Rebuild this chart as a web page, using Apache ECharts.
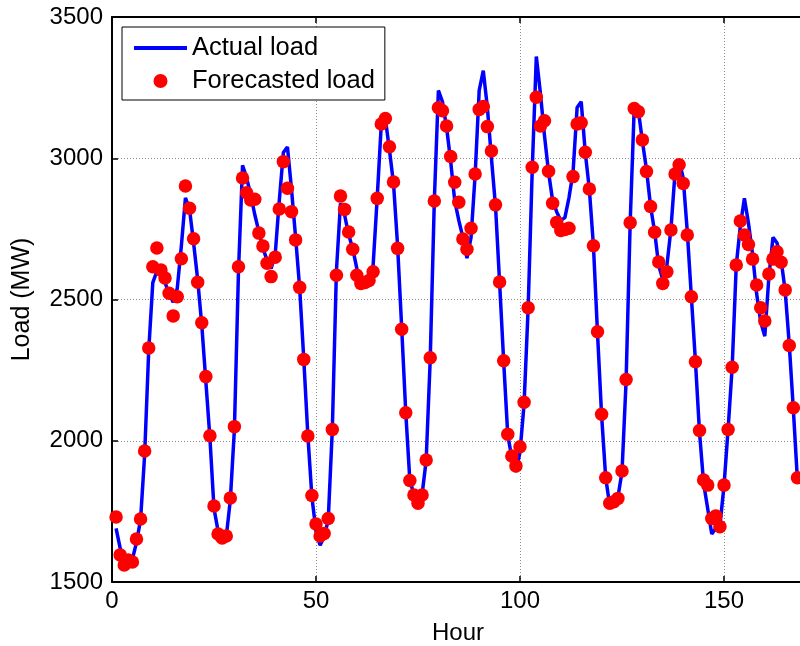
<!DOCTYPE html>
<html>
<head>
<meta charset="utf-8">
<script src="https://cdn.jsdelivr.net/npm/echarts@6/dist/echarts.min.js"></script>
<style>
html,body{margin:0;padding:0;background:#fff;overflow:hidden;}
#chart{width:800px;height:646px;}
</style>
</head>
<body>
<div id="chart"></div>
<script>
// Hour index of each sample (1..168)
const firstHour = 1;
// Actual load (MW), hours 1..168
const actualLoad = [
1690,1620,1585,1575,1580,1640,1720,1950,2320,2560,2600,2590,2560,2520,2490,2540,2690,2860,2820,2700,2570,2410,2210,2010,
1760,1680,1650,1660,1790,2040,2600,2975,2930,2870,2800,2740,2680,2640,2610,2660,2850,3020,3040,2890,2720,2540,2290,2020,
1800,1680,1630,1660,1720,2040,2600,2840,2800,2730,2680,2610,2560,2570,2580,2620,2860,3120,3140,3030,2910,2690,2400,2100,
1860,1810,1780,1810,1930,2290,2850,3240,3200,3110,2990,2850,2780,2720,2646,2720,2940,3240,3310,3180,3000,2830,2560,2280,
2020,1940,1890,1960,2130,2470,2960,3360,3230,3080,2950,2850,2810,2780,2790,2860,2950,3180,3200,3020,2890,2690,2380,2090,
1870,1770,1780,1800,1890,2210,2770,3180,3170,3060,2960,2830,2740,2620,2570,2620,2750,2950,2990,2930,2740,2510,2280,2030,
1850,1760,1670,1690,1700,1840,2040,2260,2620,2760,2858,2770,2660,2520,2420,2370,2580,2720,2700,2640,2530,2340,2110,1860
];
// Forecasted load (MW), hours 1..168
const forecastLoad = [
1730,1596,1560,1578,1571,1652,1723,1964,2328,2616,2682,2604,2576,2522,2442,2510,2644,2902,2823,2715,2561,2418,2227,2018,
1769,1670,1656,1663,1797,2050,2616,2930,2878,2852,2855,2735,2689,2628,2581,2650,2820,2988,2894,2811,2711,2543,2288,2017,
1806,1705,1663,1672,1725,2040,2586,2866,2819,2739,2678,2586,2557,2560,2567,2598,2858,3121,3141,3041,2916,2681,2395,2099,
1859,1808,1779,1808,1932,2294,2849,3179,3168,3114,3006,2915,2844,2714,2678,2752,2944,3173,3183,3112,3026,2835,2562,2283,
2023,1946,1911,1979,2136,2471,2968,3216,3114,3133,2954,2841,2773,2744,2748,2752,2935,3121,3126,3021,2891,2690,2386,2094,
1869,1779,1784,1796,1893,2217,2772,3176,3165,3065,2953,2829,2738,2633,2557,2598,2746,2944,2977,2911,2728,2510,2280,2036,
1861,1843,1725,1734,1696,1843,2040,2260,2622,2778,2728,2695,2643,2551,2471,2424,2590,2643,2669,2632,2534,2337,2117,1869
];
const seriesNames = ['Actual load', 'Forecasted load'];
const xTicks = [0, 50, 100, 150, 200];
const yTicks = [1500, 2000, 2500, 3000, 3500];
const xLabel = 'Hour';
const yLabel = 'Load (MW)';

const toPairs = arr => arr.map((v, i) => [firstHour + i, v]);
const font = 'Liberation Sans, Arial, Helvetica, sans-serif';

const chart = echarts.init(document.getElementById('chart'), null, {renderer: 'canvas'});
const gridLine = {show: true, lineStyle: {color: '#8c8c8c', width: 1, type: [1, 2]}};
chart.setOption({
  backgroundColor: '#ffffff',
  animation: false,
  grid: {left: 112, top: 17, width: 816, height: 565, containLabel: false, outerBoundsMode: 'none'},
  legend: {
    orient: 'vertical',
    left: 122, top: 27,
    padding: [8, 10, 6, 10],
    itemGap: 7,
    itemWidth: 53, itemHeight: 14,
    backgroundColor: '#ffffff',
    borderColor: '#000000', borderWidth: 1,
    textStyle: {fontFamily: font, fontSize: 25.5, color: '#000'},
    data: [
      {name: seriesNames[0],
       lineStyle: {color: '#0000ff', width: 4},
       itemStyle: {color: 'rgba(0,0,0,0)', borderColor: 'rgba(0,0,0,0)', borderWidth: 0, opacity: 0}},
      {name: seriesNames[1]}
    ]
  },
  xAxis: [{
    type: 'value', min: xTicks[0], max: xTicks[xTicks.length - 1], interval: 50,
    position: 'bottom',
    axisLine: {show: true, onZero: false, lineStyle: {color: '#000', width: 2}},
    axisTick: {show: true, inside: true, length: 6, lineStyle: {color: '#000', width: 1.5}},
    axisLabel: {fontFamily: font, fontSize: 24, color: '#000', margin: 7, formatter: v => String(v)},
    splitLine: gridLine
  }, {
    type: 'value', min: xTicks[0], max: xTicks[xTicks.length - 1], interval: 50,
    position: 'top',
    axisLine: {show: true, onZero: false, lineStyle: {color: '#000', width: 2}},
    axisTick: {show: true, inside: true, length: 6, lineStyle: {color: '#000', width: 1.5}},
    axisLabel: {show: false},
    splitLine: {show: false}
  }],
  yAxis: {
    type: 'value', min: yTicks[0], max: yTicks[yTicks.length - 1], interval: 500,
    name: yLabel, nameLocation: 'middle', nameGap: 77, nameRotate: 90,
    nameTextStyle: {fontFamily: font, fontSize: 25, color: '#000'},
    axisLine: {show: true, onZero: false, lineStyle: {color: '#000', width: 2}},
    axisTick: {show: true, inside: true, length: 6, lineStyle: {color: '#000', width: 1.5}},
    axisLabel: {fontFamily: font, fontSize: 24, color: '#000', margin: 9, formatter: v => String(v)},
    splitLine: gridLine
  },
  graphic: [{
    type: 'text', left: 432, top: 621,
    style: {text: xLabel, fontFamily: font, fontSize: 24, fill: '#000'}
  }],
  series: [{
    name: seriesNames[0], type: 'line', data: toPairs(actualLoad),
    showSymbol: false, symbol: 'none',
    itemStyle: {color: '#0000ff'},
    lineStyle: {color: '#0000ff', width: 3.5},
    z: 2
  }, {
    name: seriesNames[1], type: 'scatter', data: toPairs(forecastLoad),
    symbol: 'circle', symbolSize: 13.5,
    itemStyle: {color: '#ff0000', opacity: 1},
    z: 3
  }]
});
</script>
</body>
</html>
